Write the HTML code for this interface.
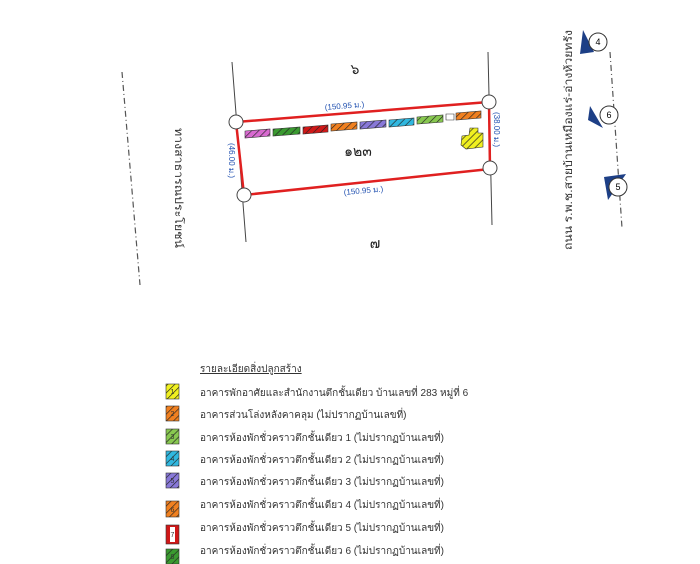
<!DOCTYPE html>
<html><head><meta charset="utf-8"><style>
html,body{margin:0;padding:0;background:#fff;width:700px;height:564px;overflow:hidden}
svg{display:block}
text{font-family:"Liberation Sans","Noto Sans CJK SC",sans-serif}
</style></head><body>
<svg width="700" height="564" viewBox="0 0 700 564" xmlns="http://www.w3.org/2000/svg">
<defs>
<pattern id="h" width="5" height="5" patternUnits="userSpaceOnUse" patternTransform="rotate(45)">
<rect width="5" height="5" fill="none"/><line x1="0" y1="0" x2="0" y2="5" stroke="#222" stroke-width="1.3"/>
</pattern>
</defs>
<line x1="122" y1="72" x2="140" y2="285" stroke="#555" stroke-width="1.2" stroke-dasharray="6,3,1,3"/>
<line x1="610" y1="52" x2="622" y2="228" stroke="#555" stroke-width="1.2" stroke-dasharray="6,3,1,3"/>
<text transform="translate(175,128) rotate(90)" font-size="11" fill="#333" textLength="120" lengthAdjust="spacingAndGlyphs">ทางสาธารณประโยชน์</text>
<text transform="translate(572,250) rotate(-90)" font-size="11" fill="#333" textLength="220" lengthAdjust="spacingAndGlyphs">ถนน ร.พ.ช.สายบ้านเหมืองแร่-อ่างห้วยทรัง</text>
<g font-size="9" text-anchor="middle">
<polygon points="583,30 594,52 580,54" fill="#1d3f86"/><circle cx="598" cy="42" r="9" fill="#fff" stroke="#333"/><text x="598" y="45">4</text>
<polygon points="590,106 603,128 588,120" fill="#1d3f86"/><circle cx="609" cy="115" r="9" fill="#fff" stroke="#333"/><text x="609" y="118">6</text>
<polygon points="604,177 626,174 608,200" fill="#1d3f86"/><circle cx="618" cy="187" r="9" fill="#fff" stroke="#333"/><text x="618" y="190">5</text>
</g>
<line x1="232" y1="62" x2="246" y2="242" stroke="#444" stroke-width="1"/>
<line x1="488" y1="52" x2="492" y2="225" stroke="#444" stroke-width="1"/>
<polygon points="236,122 489,102 490,169 244,195" fill="none" stroke="#e02020" stroke-width="2.5"/>
<g stroke="#333" stroke-width="0.6">
<polygon points="245,131 270,129 270,136 245,138" fill="#d86ad0"/>
<polygon points="273,129 300,127 300,134 273,136" fill="#3a9a30"/>
<polygon points="303,127 328,125 328,132 303,134" fill="#d01818"/>
<polygon points="331,124 357,122 357,129 331,131" fill="#f08020"/>
<polygon points="360,122 386,120 386,127 360,129" fill="#8878d8"/>
<polygon points="389,120 414,118 414,125 389,127" fill="#30b8e0"/>
<polygon points="417,117 443,115 443,122 417,124" fill="#88c850"/>
<polygon points="446,114 454,114 454,120 446,120" fill="#fff"/>
<polygon points="456,113 481,111 481,118 456,120" fill="#f08020"/>
<polygon points="470,128 478,128 478,133 483,133 483,147 466,149 461,145 462,136 469,135" fill="#f0f020"/>
</g>
<g fill="url(#h)">
<polygon points="245,131 270,129 270,136 245,138"/><polygon points="273,129 300,127 300,134 273,136"/>
<polygon points="303,127 328,125 328,132 303,134"/><polygon points="331,124 357,122 357,129 331,131"/>
<polygon points="360,122 386,120 386,127 360,129"/><polygon points="389,120 414,118 414,125 389,127"/>
<polygon points="417,117 443,115 443,122 417,124"/><polygon points="456,113 481,111 481,118 456,120"/>
<polygon points="470,128 478,128 478,133 483,133 483,147 466,149 461,145 462,136 469,135"/>
</g>
<g fill="#fff" stroke="#444" stroke-width="1">
<circle cx="236" cy="122" r="7"/><circle cx="489" cy="102" r="7"/>
<circle cx="490" cy="168" r="7"/><circle cx="244" cy="195" r="7"/>
</g>
<g fill="#2050b0" font-size="8">
<text transform="translate(325,110) rotate(-4.5)">(150.95 ม.)</text>
<text transform="translate(344,195) rotate(-5)">(150.95 ม.)</text>
<text transform="translate(229,143) rotate(90)">(46.00 ม.)</text>
<text transform="translate(494,112) rotate(90)">(38.00 ม.)</text>
</g>
<g fill="#222" font-size="14" text-anchor="middle">
<text x="355" y="74">๖</text>
<text x="358" y="156">๑๒๓</text>
<text x="375" y="248">๗</text>
</g>
<text x="200" y="372" font-size="10" fill="#333" text-decoration="underline">รายละเอียดสิ่งปลูกสร้าง</text>
<g font-size="10" fill="#333">
<text x="200" y="396">อาคารพักอาศัยและสำนักงานตึกชั้นเดียว บ้านเลขที่ 283 หมู่ที่ 6</text>
<text x="200" y="418">อาคารส่วนโล่งหลังคาคลุม (ไม่ปรากฏบ้านเลขที่)</text>
<text x="200" y="441">อาคารห้องพักชั่วคราวตึกชั้นเดียว 1 (ไม่ปรากฏบ้านเลขที่)</text>
<text x="200" y="463">อาคารห้องพักชั่วคราวตึกชั้นเดียว 2 (ไม่ปรากฏบ้านเลขที่)</text>
<text x="200" y="485">อาคารห้องพักชั่วคราวตึกชั้นเดียว 3 (ไม่ปรากฏบ้านเลขที่)</text>
<text x="200" y="508">อาคารห้องพักชั่วคราวตึกชั้นเดียว 4 (ไม่ปรากฏบ้านเลขที่)</text>
<text x="200" y="531">อาคารห้องพักชั่วคราวตึกชั้นเดียว 5 (ไม่ปรากฏบ้านเลขที่)</text>
<text x="200" y="554">อาคารห้องพักชั่วคราวตึกชั้นเดียว 6 (ไม่ปรากฏบ้านเลขที่)</text>
</g>
<g stroke="#333" stroke-width="0.6">
<rect x="166" y="384" width="13" height="15" fill="#f0f020"/>
<rect x="166" y="406" width="13" height="15" fill="#f08020"/>
<rect x="166" y="429" width="13" height="15" fill="#88c850"/>
<rect x="166" y="451" width="13" height="15" fill="#30b8e0"/>
<rect x="166" y="473" width="13" height="15" fill="#8878d8"/>
<rect x="166" y="501" width="13" height="16" fill="#f08020"/>
<rect x="166" y="525" width="13" height="19" fill="#d01818"/>
<rect x="166" y="549" width="13" height="15" fill="#3a9a30"/>
</g>
<g fill="url(#h)">
<rect x="166" y="384" width="13" height="15"/><rect x="166" y="406" width="13" height="15"/>
<rect x="166" y="429" width="13" height="15"/><rect x="166" y="451" width="13" height="15"/>
<rect x="166" y="473" width="13" height="15"/><rect x="166" y="501" width="13" height="16"/>
<rect x="166" y="549" width="13" height="15"/>
</g>
<rect x="170" y="527" width="5" height="15" fill="#fff"/>
<g font-size="7" fill="#333" text-anchor="middle">
<text x="172.5" y="394">1</text><text x="172.5" y="416">2</text><text x="172.5" y="439">3</text>
<text x="172.5" y="461">4</text><text x="172.5" y="483">5</text><text x="172.5" y="512">6</text>
<text x="172.5" y="537">7</text><text x="172.5" y="559">8</text>
</g>
</svg>
</body></html>
